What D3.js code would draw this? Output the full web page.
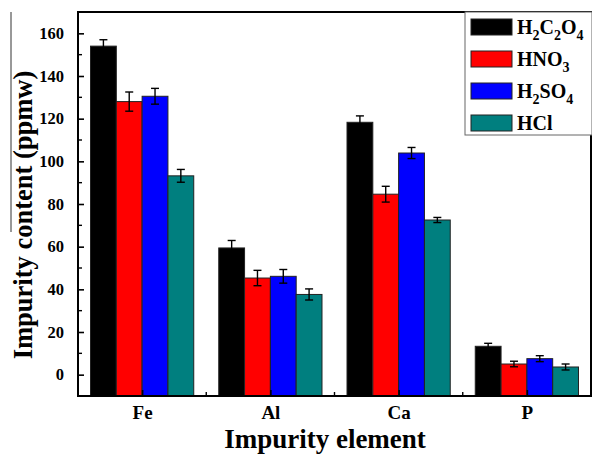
<!DOCTYPE html>
<html>
<head>
<meta charset="utf-8">
<script src="https://cdn.jsdelivr.net/npm/d3@7"></script>
<style>
  body { margin: 0; background: #fff; }
  text { font-family: "Liberation Serif", "Times New Roman", serif; font-weight: bold; }
</style>
</head>
<body>
<svg class="main" width="592" height="456"></svg>
<script>
var ELEMENTS = ["Fe", "Al", "Ca", "P"];
var ACIDS = ["H2C2O4", "HNO3", "H2SO4", "HCl"];
var COLORS = ["#000000", "#FF0000", "#0000FF", "#007F7F"];
// values, one array per acid (Fe, Al, Ca, P)
var H2C2O4 = [154, 59.4, 118.3, 13.3];
var HNO3 = [128, 45.3, 84.6, 5.0];
var H2SO4 = [130.5, 46.1, 103.9, 7.5];
var HCL = [93.2, 37.6, 72.5, 3.6];
// error bar half-heights
var H2C2O4_ERR = [3, 3.5, 3, 1.4];
var HNO3_ERR = [4.5, 3.6, 3.7, 1.3];
var H2SO4_ERR = [3.7, 3.2, 2.6, 1.4];
var HCL_ERR = [3, 2.6, 1.2, 1.4];
var Y_TICKS = [0, 20, 40, 60, 80, 100, 120, 140, 160];

var SERIES = [H2C2O4, HNO3, H2SO4, HCL];
var ERRORS = [H2C2O4_ERR, HNO3_ERR, H2SO4_ERR, HCL_ERR];

function main() {
  var svg = d3.select("svg.main");
  var pLeft = 78, pRight = 591, pTop = 12, pBottom = 396;

  var x = d3.scaleLinear().domain([0.5, 4.5]).range([pLeft, pRight]);
  var y = d3.scaleLinear().domain([-10, 170]).range([pBottom, pTop]);
  var groupWidth = 0.805; // in category units
  var barW = groupWidth / ACIDS.length;

  // bars
  SERIES.forEach(function(vals, s) {
    var g = svg.append("g");
    g.selectAll("rect").data(vals).enter().append("rect")
      .attr("x", function(d, i) { return x(i + 1 - groupWidth / 2 + s * barW); })
      .attr("width", x(barW) - x(0))
      .attr("y", function(d) { return y(d); })
      .attr("height", function(d) { return y(-10) - y(d); })
      .attr("fill", COLORS[s])
      .attr("stroke", "#222")
      .attr("stroke-width", 1);

    var eb = g.selectAll("g.err").data(vals).enter().append("g").attr("class", "err");
    eb.each(function(d, i) {
      var cx = x(i + 1 - groupWidth / 2 + (s + 0.5) * barW);
      var e = ERRORS[s][i];
      var el = d3.select(this);
      el.append("line").attr("x1", cx).attr("x2", cx).attr("y1", y(d - e)).attr("y2", y(d + e));
      el.append("line").attr("x1", cx - 4).attr("x2", cx + 4).attr("y1", y(d - e)).attr("y2", y(d - e));
      el.append("line").attr("x1", cx - 4).attr("x2", cx + 4).attr("y1", y(d + e)).attr("y2", y(d + e));
    });
    eb.selectAll("line").attr("stroke", "#000").attr("stroke-width", 1.4);
  });

  // frame
  svg.append("rect")
    .attr("x", pLeft).attr("y", pTop)
    .attr("width", pRight - pLeft).attr("height", pBottom - pTop)
    .attr("fill", "none").attr("stroke", "#000").attr("stroke-width", 2);

  // y axis, ticks pointing inward
  var yAxis = d3.axisLeft(y).tickValues(Y_TICKS).tickSize(-6).tickPadding(14);
  var yg = svg.append("g").attr("transform", "translate(" + pLeft + ",0)").call(yAxis);
  yg.select(".domain").remove();
  yg.selectAll(".tick line").attr("stroke-width", 1.6);
  yg.selectAll("text").attr("font-size", 16.5).attr("fill", "#000")
    .attr("font-family", "Liberation Serif").attr("font-weight", "bold");

  var minorY = d3.range(-10, 171, 20).filter(function(v) { return v > -10 && v < 170; });
  svg.append("g").selectAll("line").data(minorY).enter().append("line")
    .attr("x1", pLeft).attr("x2", pLeft + 4)
    .attr("y1", function(d) { return y(d); }).attr("y2", function(d) { return y(d); })
    .attr("stroke", "#000").attr("stroke-width", 1.4);

  // x axis
  var xAxis = d3.axisBottom(x).tickValues([1, 2, 3, 4])
    .tickFormat(function(d) { return ELEMENTS[d - 1]; })
    .tickSize(-6).tickPadding(10);
  var xg = svg.append("g").attr("transform", "translate(0," + pBottom + ")").call(xAxis);
  xg.select(".domain").remove();
  xg.selectAll(".tick line").attr("stroke-width", 1.6);
  xg.selectAll("text").attr("font-size", 19).attr("fill", "#000")
    .attr("font-family", "Liberation Serif").attr("font-weight", "bold");

  svg.append("g").selectAll("line").data([1.5, 2.5, 3.5]).enter().append("line")
    .attr("x1", function(d) { return x(d); }).attr("x2", function(d) { return x(d); })
    .attr("y1", pBottom).attr("y2", pBottom - 4)
    .attr("stroke", "#000").attr("stroke-width", 1.4);

  // axis titles
  svg.append("text")
    .attr("x", 325).attr("y", 448)
    .attr("text-anchor", "middle")
    .attr("font-size", 27)
    .text("Impurity element");

  svg.append("text")
    .attr("transform", "translate(32,215) rotate(-90)")
    .attr("text-anchor", "middle")
    .attr("font-size", 26.5)
    .text("Impurity content (ppmw)");

  // stray overline next to the y title, as in the picture
  svg.append("line")
    .attr("x1", 11).attr("x2", 11).attr("y1", 12).attr("y2", 232)
    .attr("stroke", "#333").attr("stroke-width", 1);

  // legend
  var legend = svg.append("g");
  legend.append("rect")
    .attr("x", 465).attr("y", 12).attr("width", 127).attr("height", 123)
    .attr("fill", "#fff").attr("stroke", "#666").attr("stroke-width", 1);

  var LABELS = [
    [["H", 0], ["2", 1], ["C", 0], ["2", 1], ["O", 0], ["4", 1]],
    [["HNO", 0], ["3", 1]],
    [["H", 0], ["2", 1], ["SO", 0], ["4", 1]],
    [["HCl", 0]]
  ];

  ACIDS.forEach(function(a, i) {
    var cy = 27 + i * 32;
    legend.append("rect")
      .attr("x", 471).attr("y", cy - 8).attr("width", 41).attr("height", 16)
      .attr("fill", COLORS[i]).attr("stroke", "#222").attr("stroke-width", 1);
    var t = legend.append("text")
      .attr("x", 517).attr("y", cy + 7)
      .attr("font-size", 20);
    LABELS[i].forEach(function(p) {
      t.append("tspan")
        .attr("font-size", p[1] ? 14 : 20)
        .attr("baseline-shift", p[1] ? "-6px" : null)
        .text(p[0]);
    });
  });
}

main();
</script>
</body>
</html>
